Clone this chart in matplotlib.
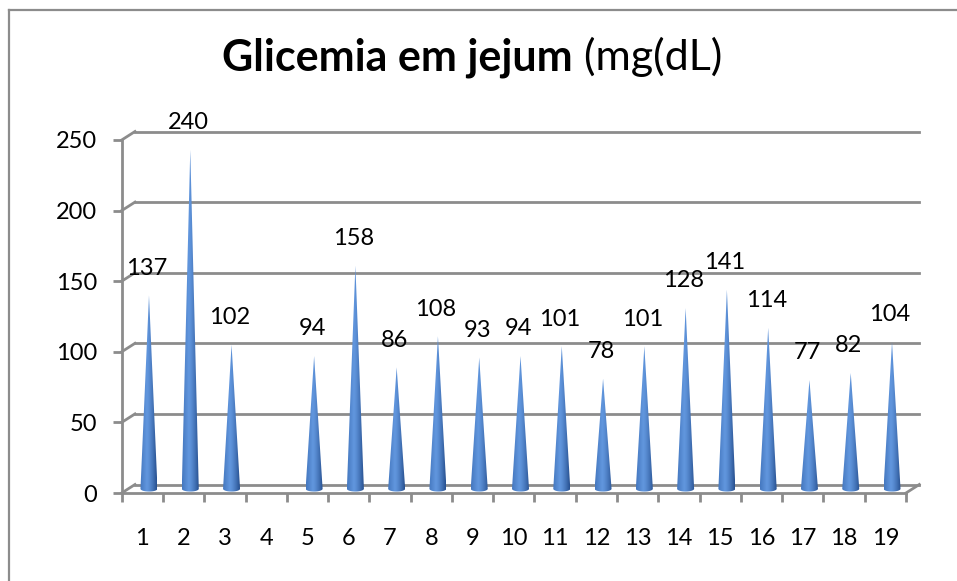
import numpy as np
import matplotlib
matplotlib.use('Agg')
import matplotlib.pyplot as plt
from matplotlib.patches import Polygon

plt.rcParams['font.family'] = ['Lato', 'DejaVu Sans']

# dados
categorias = [str(i) for i in range(1, 20)]
valores = [137, 240, 102, np.nan, 94, 158, 86, 108, 93, 94, 101, 78, 101, 128, 141, 114, 77, 82, 104]
y_ticks = [0, 50, 100, 150, 200, 250]
titulo_negrito = 'Glicemia em jejum'
titulo_normal = ' (mg(dL)'

W, H = 957, 581
fig = plt.figure(figsize=(W / 100, H / 100), dpi=100)

# plano frontal em pixels
x0, x1 = 121.7, 906.0
yb, yt = 493.0, 140.0
ax = fig.add_axes([x0 / W, (H - yb) / H, (x1 - x0) / W, (yb - yt) / H])
ax.set_xlim(0, 19)
ax.set_ylim(0, 250)

# profundidade 3d em unidades de dados
px_x = (x1 - x0) / 19
px_y = (yb - yt) / 250
ddx = 13.3 / px_x
ddy = 8.5 / px_y

cinza = '#8c8c8c'
lw = 2.0
fs = 17

# parede do fundo e lateral
for v in y_ticks:
    ax.plot([0 + ddx, 19 + ddx], [v + ddy, v + ddy], color=cinza, lw=lw, clip_on=False, zorder=1)
    ax.plot([0, ddx], [v, v + ddy], color=cinza, lw=lw, clip_on=False, zorder=1)
# chao lado direito
ax.plot([19, 19 + ddx], [0, ddy], color=cinza, lw=lw, clip_on=False, zorder=1)

# eixos
for s in ['top', 'right']:
    ax.spines[s].set_visible(False)
for s in ['left', 'bottom']:
    ax.spines[s].set_color(cinza)
    ax.spines[s].set_linewidth(lw)
    ax.spines[s].set_zorder(2)
ax.patch.set_visible(False)

ax.set_yticks(y_ticks)
ax.set_yticklabels([str(v) for v in y_ticks])
ax.tick_params(axis='y', length=6.5, width=lw, color=cinza, pad=11, labelsize=fs)
ax.set_xticks(range(20))
ax.set_xticklabels([''] * 20)
ax.set_xticks(np.arange(19) + 0.5, minor=True)
ax.set_xticklabels(categorias, minor=True)
ax.tick_params(axis='x', which='major', length=6.5, width=lw, color=cinza)
ax.tick_params(axis='x', which='minor', length=0, pad=25, labelsize=fs)

# gradiente horizontal do cone
esq = np.array([0.27, 0.47, 0.75])
pico = np.array([0.38, 0.59, 0.87])
dir_ = np.array([0.15, 0.31, 0.56])
u = np.linspace(0, 1, 64)
grad = np.zeros((1, 64, 3))
for k, t in enumerate(u):
    if t < 0.4:
        grad[0, k] = esq + (pico - esq) * (t / 0.4)
    else:
        grad[0, k] = pico + (dir_ - pico) * ((t - 0.4) / 0.6) ** 1.4

w = 8.5 / px_x
e = 2.8 / px_y
for i, v in enumerate(valores):
    if np.isnan(v):
        continue
    cx = i + 0.5 + ddx / 2
    by = ddy / 2
    th = np.linspace(np.pi, 0, 40)
    base = np.column_stack([cx + w * np.cos(th), by - e * np.sin(th)])
    pts = np.vstack([[[cx, by + v]], base])
    poly = Polygon(pts, closed=True, facecolor='none', edgecolor='none')
    ax.add_patch(poly)
    im = ax.imshow(grad, extent=[cx - w, cx + w, by - e, by + v], aspect='auto',
                   interpolation='bilinear', zorder=3)
    im.set_clip_path(poly)
    ax.annotate(str(int(v)), (cx, by + v), xytext=(-1.5, 19.5), textcoords='offset points',
                ha='center', va='center', fontsize=fs, color='black', zorder=4)

ax.set_xlim(0, 19)
ax.set_ylim(0, 250)

# borda da area do grafico
fig.add_artist(plt.Line2D([9 / W, 9 / W], [0, (H - 10) / H], color=cinza, lw=1.6))
fig.add_artist(plt.Line2D([9 / W, 1], [(H - 10) / H, (H - 10) / H], color=cinza, lw=1.6))

# titulo em duas partes
fig.canvas.draw()
r = fig.canvas.get_renderer()
ty = (H - 70) / H
t1 = fig.text(0, ty, titulo_negrito, fontsize=31, fontweight='bold', va='baseline')
t2 = fig.text(0, ty, titulo_normal, fontsize=31, va='baseline')
w1 = t1.get_window_extent(r).width
w2 = t2.get_window_extent(r).width
start = 472 - (w1 + w2) / 2
t1.set_x(start / W)
t2.set_x((start + w1) / W)

fig.savefig('out.png', dpi=100)
